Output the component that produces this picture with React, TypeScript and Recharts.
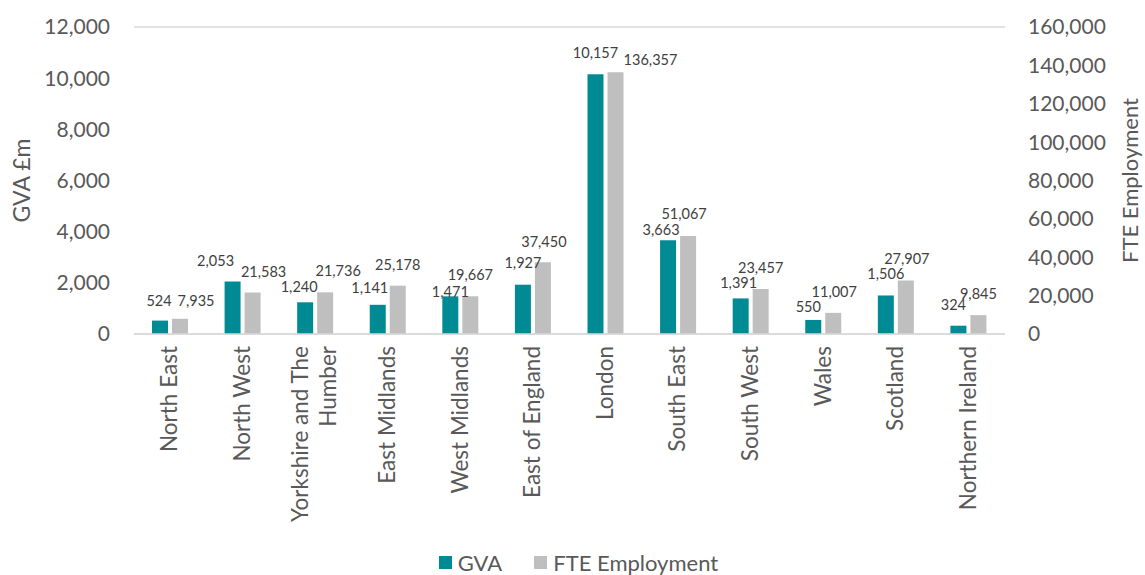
import React from 'react';
import { BarChart, Bar, XAxis, YAxis, CartesianGrid, Legend, LabelList } from 'recharts';

const regions = ['North East', 'North West', 'Yorkshire and The Humber', 'East Midlands', 'West Midlands', 'East of England', 'London', 'South East', 'South West', 'Wales', 'Scotland', 'Northern Ireland'];
const gva = [524, 2053, 1240, 1141, 1471, 1927, 10157, 3663, 1391, 550, 1506, 324];
const fte = [7935, 21583, 21736, 25178, 19667, 37450, 136357, 51067, 23457, 11007, 27907, 9845];
const leftTicks = [0, 2000, 4000, 6000, 8000, 10000, 12000];
const rightTicks = [0, 20000, 40000, 60000, 80000, 100000, 120000, 140000, 160000];

// label nudges (px) relative to the default "above the bar" placement, as in the reference
const gvaLabelDx = [-1, -17, -6, -8, 0, 0, 0, -7, -2, -5, 0, -5];
const gvaLabelDy = [1, 1, 6, 4, 17, -1, 0, 11, 6, 8, 0, 0];
const fteLabelDx = [16, 11, 13, 0, 0, 1, 35, -4, 0, 1, 1, 0];
const fteLabelDy = [3, 0, 0, 0, 0, 1, 9, -1, 0, 0, 0, 0];

const data = regions.map((r, i) => ({ region: r, gva: gva[i], fte: fte[i] }));

const TEAL = '#008B94';
const GREY = '#BFBFBF';
const TEXT = '#595959';
const FONT = 'Lato, "Open Sans", sans-serif';

const fmt = (v: any) => Number(v).toLocaleString('en-US');

const splitLabel = (s: string): string[] => {
  if (s.length <= 20) return [s];
  const idx = s.lastIndexOf(' ');
  return [s.slice(0, idx), s.slice(idx + 1)];
};

const XTick = (props: any) => {
  const { x, y, payload } = props;
  const lines = splitLabel(String(payload.value));
  const lh = 28;
  const start = -((lines.length - 1) * lh) / 2;
  return (
    <g transform={`translate(${x},${y})`}>
      <text transform="rotate(-90)" textAnchor="end" fill={TEXT} fontSize={22.5} fontFamily={FONT}>
        {lines.map((l, i) => (
          <tspan key={i} x={0} y={start + i * lh + 7}>{l}</tspan>
        ))}
      </text>
    </g>
  );
};

const makeLabel = (dxs: number[], dys: number[]) => (props: any) => {
  const { x, y, width, value, index } = props;
  return (
    <text
      x={Number(x) + Number(width) / 2 + (dxs[index] || 0)}
      y={Number(y) - 16 + (dys[index] || 0)}
      textAnchor="middle"
      fill="#404040"
      fontSize={14.5}
      fontFamily={FONT}
    >
      {fmt(value)}
    </text>
  );
};

const LegendContent = () => (
  <div style={{ display: 'flex', justifyContent: 'center', alignItems: 'center', fontFamily: FONT, fontSize: 22, color: TEXT, paddingTop: 14, paddingLeft: 12 }}>
    <span style={{ display: 'inline-block', width: 13, height: 13, background: TEAL, marginRight: 6 }} />
    <span style={{ marginRight: 32 }}>GVA</span>
    <span style={{ display: 'inline-block', width: 13, height: 13, background: GREY, marginRight: 6 }} />
    <span>FTE Employment</span>
  </div>
);

export default function App() {
  return (
    <div style={{ position: 'absolute', left: 0, top: 0, background: '#fff' }}>
      <BarChart width={1145} height={575} data={data} margin={{ top: 27, right: 0, left: 0, bottom: 0 }} barSize={16} barGap={4}>
        <CartesianGrid vertical={false} stroke="#D9D9D9" strokeWidth={1.5} />
        <XAxis dataKey="region" interval={0} height={201} tick={<XTick />} tickLine={false} axisLine={{ stroke: '#D9D9D9', strokeWidth: 1.5 }} tickMargin={6} />
        <YAxis yAxisId="left" orientation="left" width={134} domain={[0, 12000]} ticks={leftTicks} tickFormatter={fmt} tickLine={false} axisLine={false} tickMargin={18} tick={{ fill: TEXT, fontSize: 21, fontFamily: FONT }}
          label={{ value: 'GVA £m', angle: -90, position: 'center', dx: -45, fill: TEXT, fontSize: 23, fontFamily: FONT }} />
        <YAxis yAxisId="right" orientation="right" width={140} domain={[0, 160000]} ticks={rightTicks} tickFormatter={fmt} tickLine={false} axisLine={false} tickMargin={17} tick={{ fill: TEXT, fontSize: 21, fontFamily: FONT, textAnchor: 'start' }}
          label={{ value: 'FTE Employment', angle: -90, position: 'center', dx: 55, fill: TEXT, fontSize: 22, fontFamily: FONT }} />
        <Legend verticalAlign="bottom" height={40} content={<LegendContent />} />
        <Bar yAxisId="left" dataKey="gva" name="GVA" fill={TEAL} isAnimationActive={false}>
          <LabelList dataKey="gva" content={makeLabel(gvaLabelDx, gvaLabelDy)} />
        </Bar>
        <Bar yAxisId="right" dataKey="fte" name="FTE Employment" fill={GREY} isAnimationActive={false}>
          <LabelList dataKey="fte" content={makeLabel(fteLabelDx, fteLabelDy)} />
        </Bar>
      </BarChart>
    </div>
  );
}
